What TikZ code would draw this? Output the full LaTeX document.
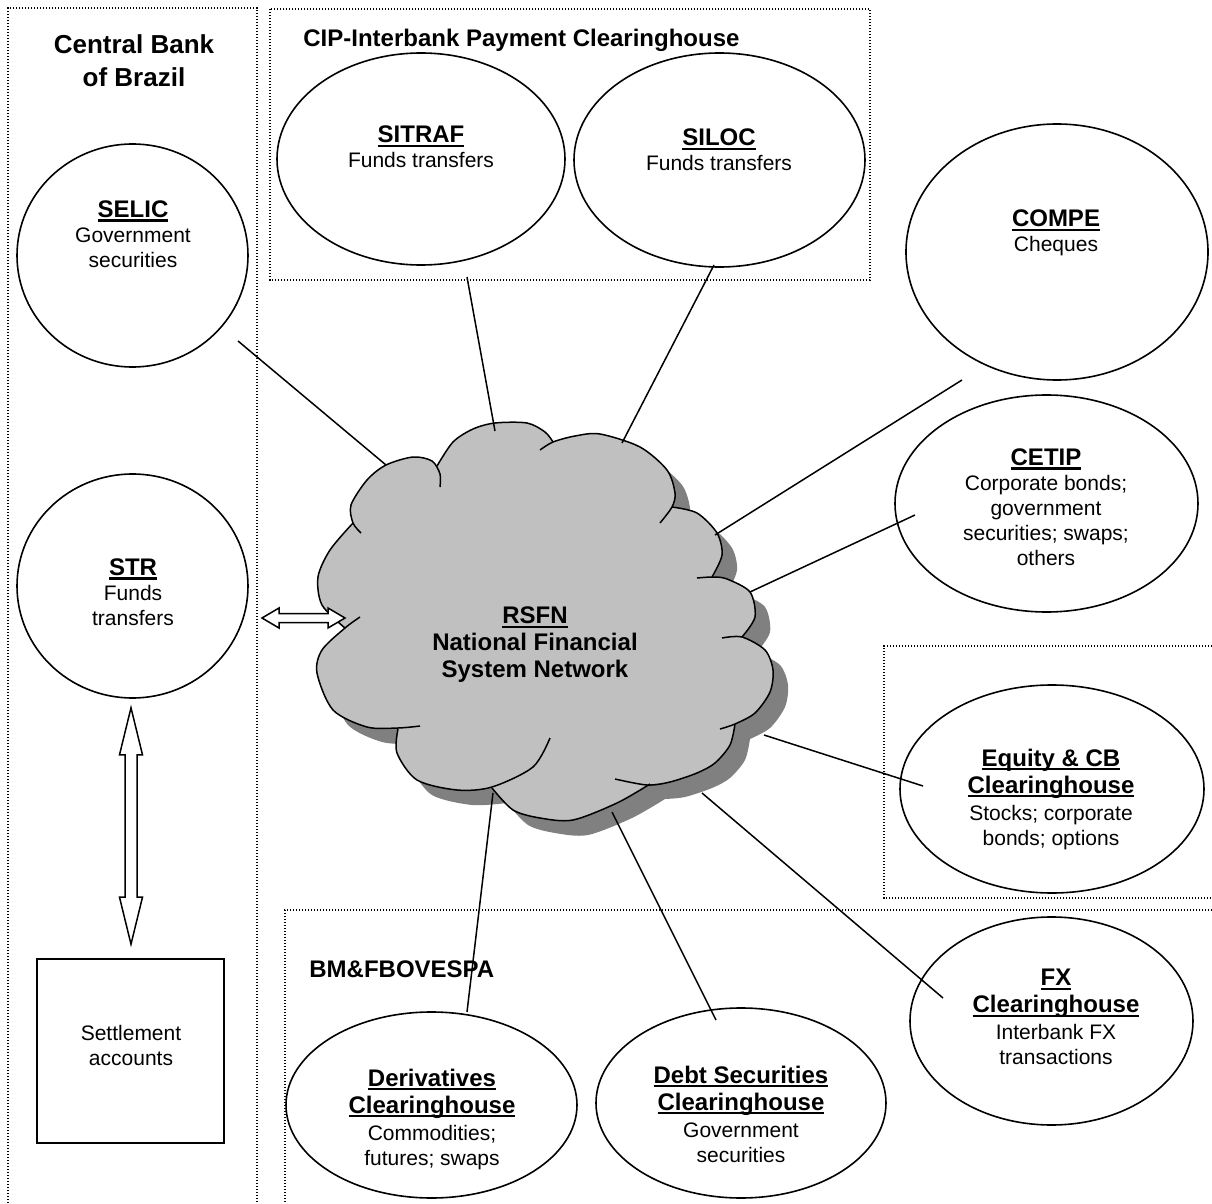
\documentclass[tikz,border=0pt]{standalone}
\usepackage{fontspec}
\setmainfont{Liberation Sans}
\usetikzlibrary{calc,shapes.geometric}
\definecolor{cloudfill}{HTML}{C0C0C0}
\definecolor{cloudshadow}{HTML}{808080}
\newsavebox\ulbox
\newcommand{\uln}[1]{\sbox\ulbox{#1}\rlap{\rule[-2.2pt]{\wd\ulbox}{1.1pt}}\usebox\ulbox}
\newcommand{\ttlfont}{\fontsize{12}{13.5}\selectfont\bfseries}
\newcommand{\bodyfont}{\fontsize{10.5}{12.5}\selectfont}
\newcommand{\cloudpathfill}[1]{%
\fill[#1] plot[smooth] coordinates {(345,628) (322,605) (318,577) (330,550) (353,523)}
 -- plot[smooth] coordinates {(353,523) (351,505) (367,480) (386,465) (413,457) (432,461) (437,466)}
 -- plot[smooth] coordinates {(437,466) (453,442) (473,429) (495,423) (527,423) (545,432) (553,442)}
 -- plot[smooth] coordinates {(553,442) (575,436) (600,434) (640,447) (667,470) (675,493) (672,507)}
 -- plot[smooth] coordinates {(672,507) (697,513) (717,533) (722,555) (713,577)}
 -- plot[smooth] coordinates {(713,577) (727,579) (750,592) (755,617) (742,637)}
 -- plot[smooth] coordinates {(742,637) (765,650) (773,670) (770,692) (755,713) (735,724)}
 -- plot[smooth] coordinates {(735,724) (730,745) (715,763) (697,773) (670,782) (650,784)}
 -- plot[smooth] coordinates {(650,784) (617,803) (573,820) (540,818) (513,810) (492,788)}
 -- plot[smooth] coordinates {(492,788) (457,790) (417,780) (397,753) (398,729)}
 -- plot[smooth] coordinates {(398,729) (367,727) (333,710) (317,673) (322,650) (345,628)}
 -- cycle;}
\begin{document}
\begin{tikzpicture}[x=0.5pt,y=-0.5pt,
  sys/.style={draw, ellipse, line width=0.8pt, inner sep=0pt},
  sz/.style 2 args={minimum width=#1pt, minimum height=#2pt},
  lbl/.style={align=center, inner sep=0pt, font=\bodyfont},
  grp/.style={line width=0.6pt, dash pattern=on 0.6pt off 0.9pt},
  grptitle/.style={inner sep=0pt, font=\ttlfont},
  conn/.style={line width=0.75pt},
  blockarrow/.style={draw, fill=white, line width=0.75pt, line join=miter},
  cloudline/.style={line width=0.75pt},
]
\useasboundingbox (0,0) rectangle (1212,1204);

% group frames
\draw[grp] (8,1230) -- (8,8) -- (257,8) -- (257,1230);
\draw[grp] (270,9) rectangle (870,280);
\draw[grp] (1230,646) -- (884,646) -- (884,898) -- (1230,898);
\draw[grp] (1230,910) -- (285,910) -- (285,1230);

% group titles
\node[grptitle, align=center, font=\fontsize{13}{16.3}\selectfont\bfseries] (cbtitle) at (134,60.5) {Central Bank\\of Brazil};
\node[grptitle, anchor=base west] (ciptitle) at (303,46.5) {CIP-Interbank Payment Clearinghouse};
\node[grptitle, anchor=base west] (bmtitle) at (309,977) {BM\&FBOVESPA};

% systems
\node[sys, sz={115.5}{111.5}] (selic) at (132.5,255.5) {};
\node[sys, sz={115.5}{112}] (str) at (132.5,586) {};
\node[sys, sz={144}{106}] (sitraf) at (421,159) {};
\node[sys, sz={145.5}{107}] (siloc) at (719.5,160) {};
\node[sys, sz={151}{128}] (compe) at (1057,252) {};
\node[sys, sz={151.5}{108.5}] (cetip) at (1046.5,503.5) {};
\node[sys, sz={152}{104}] (equity) at (1052,789) {};
\node[sys, sz={141.5}{104}] (fx) at (1051.5,1021) {};
\node[sys, sz={145.5}{93}] (deriv) at (431.5,1105) {};
\node[sys, sz={145}{95}] (debt) at (741,1103) {};
\node[draw, line width=0.8pt, minimum width=93.5pt, minimum height=92pt, inner sep=0pt] (settle) at (130.5,1051) {};

% labels
\node[lbl] (selic-t) at (133,234) {{\ttlfont\uln{SELIC}}\\Government\\securities};
\node[lbl] (str-t) at (133,592) {{\ttlfont\uln{STR}}\\Funds\\transfers};
\node[lbl] (sitraf-t) at (421,147) {{\ttlfont\uln{SITRAF}}\\Funds transfers};
\node[lbl] (siloc-t) at (719,150) {{\ttlfont\uln{SILOC}}\\Funds transfers};
\node[lbl] (compe-t) at (1056,233) {{\ttlfont\uln{COMPE}}\\Cheques};
\node[lbl] (cetip-t) at (1046,507) {{\ttlfont\uln{CETIP}}\\Corporate bonds;\\government\\securities; swaps;\\others};
\node[lbl] (equity-t) at (1051,799) {{\ttlfont\uln{Equity \& CB}}\\[1pt]{\ttlfont\uln{Clearinghouse}}\\[1pt]Stocks; corporate\\bonds; options};
\node[lbl] (fx-t) at (1056,1017) {{\ttlfont\uln{FX}}\\[1pt]{\ttlfont\uln{Clearinghouse}}\\[1pt]Interbank FX\\transactions};
\node[lbl] (deriv-t) at (432,1119) {{\ttlfont\uln{Derivatives}}\\[1pt]{\ttlfont\uln{Clearinghouse}}\\[1pt]Commodities;\\futures; swaps};
\node[lbl] (debt-t) at (741,1114) {{\ttlfont\uln{Debt Securities}}\\[1pt]{\ttlfont\uln{Clearinghouse}}\\[1pt]Government\\securities};
\node[lbl] (settle-t) at (131,1045) {Settlement\\accounts};

% cloud (RSFN)
\cloudpathfill{cloudshadow, shift={(15,15)}}
\cloudpathfill{cloudfill}
\draw[cloudline] plot[smooth] coordinates {(345,628) (322,605) (318,577) (330,550) (353,523)};
\draw[cloudline] plot[smooth] coordinates {(361,533) (353,523) (351,505) (367,480) (386,465) (413,457) (432,461) (440,474) (440,487)};
\draw[cloudline] plot[smooth] coordinates {(437,466) (453,442) (473,429) (495,423) (527,423) (545,432) (553,442)};
\draw[cloudline] plot[smooth] coordinates {(540,450) (553,442) (575,436) (600,434) (640,447) (667,470) (675,493) (672,507) (660,523)};
\draw[cloudline] plot[smooth] coordinates {(672,507) (697,513) (717,533) (722,555) (712,577)};
\draw[cloudline] plot[smooth] coordinates {(697,578) (713,577) (727,579) (750,592) (755,617) (742,637)};
\draw[cloudline] plot[smooth] coordinates {(722,638) (742,637) (765,650) (773,670) (770,692) (755,713) (735,724) (720,729)};
\draw[cloudline] plot[smooth] coordinates {(735,724) (730,745) (715,763) (697,773) (670,782) (647,785) (615,779)};
\draw[cloudline] plot[smooth] coordinates {(650,784) (617,803) (573,820) (540,818) (513,810) (492,788)};
\draw[cloudline] plot[smooth] coordinates {(398,729) (397,753) (417,780) (457,790) (492,787) (533,767) (550,738)};
\draw[cloudline] plot[smooth] coordinates {(420,726) (398,728) (367,727) (333,710) (317,673) (322,650) (345,628) (360,617)};
\node[lbl, font=\fontsize{12}{13.5}\selectfont\bfseries] (rsfn) at (535,645) {\uln{RSFN}\\National Financial\\System Network};

% connector end points
\coordinate (selic-o) at (238,341);   \coordinate (rs-selic) at (386,465);
\coordinate (sitraf-o) at (467,277);  \coordinate (rs-sitraf) at (495,431);
\coordinate (siloc-o) at (714,265);   \coordinate (rs-siloc) at (622,443);
\coordinate (compe-o) at (962,380);   \coordinate (rs-compe) at (715,535);
\coordinate (cetip-o) at (915,515);   \coordinate (rs-cetip) at (750,592);
\coordinate (equity-o) at (923,786);  \coordinate (rs-equity) at (764,735);
\coordinate (fx-o) at (943,998);      \coordinate (rs-fx) at (702,793);
\coordinate (debt-o) at (716,1020);   \coordinate (rs-debt) at (612,812);
\coordinate (deriv-o) at (467,1012);  \coordinate (rs-deriv) at (493,793);

\draw[conn] (selic-o) -- (rs-selic);
\draw[conn] (sitraf-o) -- (rs-sitraf);
\draw[conn] (siloc-o) -- (rs-siloc);
\draw[conn] (compe-o) -- (rs-compe);
\draw[conn] (cetip-o) -- (rs-cetip);
\draw[conn] (equity-o) -- (rs-equity);
\draw[conn] (fx-o) -- (rs-fx);
\draw[conn] (debt-o) -- (rs-debt);
\draw[conn] (deriv-o) -- (rs-deriv);

% block arrows
\coordinate (vtop) at ($(str.south)+(-1.5,9)$);
\coordinate (vbot) at ($(settle.north)+(0.5,-14)$);
\draw[blockarrow] (vtop) -- ($(vtop)+(11.5,47)$) -- ($(vtop)+(6,47)$) -- ($(vbot)+(6,-47)$) -- ($(vbot)+(11.5,-47)$) -- (vbot)
  -- ($(vbot)+(-11.5,-47)$) -- ($(vbot)+(-6,-47)$) -- ($(vtop)+(-6,47)$) -- ($(vtop)+(-11.5,47)$) -- cycle;
\coordinate (hl) at (262,618);
\coordinate (hr) at (345,618);
\draw[blockarrow] (hl) -- ($(hl)+(17,-10)$) -- ($(hl)+(17,-4.5)$) -- ($(hr)+(-17,-4.5)$) -- ($(hr)+(-17,-10)$) -- (hr)
  -- ($(hr)+(-17,10)$) -- ($(hr)+(-17,4.5)$) -- ($(hl)+(17,4.5)$) -- ($(hl)+(17,10)$) -- cycle;
\end{tikzpicture}
\end{document}
